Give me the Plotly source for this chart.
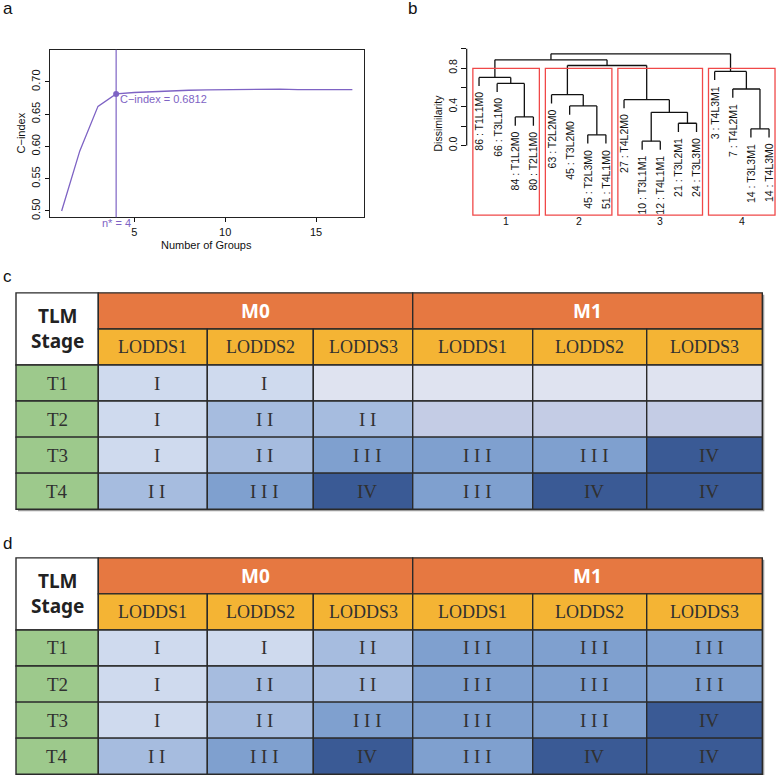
import plotly.graph_objects as go

W, H = 781, 778

# ---------------- data ----------------
# panel a
n_groups = list(range(1, 18))
c_index = [0.500, 0.593, 0.662, 0.6812, 0.6835, 0.685, 0.686, 0.687, 0.6875,
           0.688, 0.6887, 0.6892, 0.6886, 0.688, 0.688, 0.688, 0.688]
n_star = 4
c_star = 0.6812
a_xticks = [5, 10, 15]
a_yticks = [0.50, 0.55, 0.60, 0.65, 0.70]

# panel b (hclust-like merge table, leaves in plotted order)
leaf_labels = ["86 : T1L1M0", "66 : T3L1M0", "84 : T1L2M0", "80 : T2L1M0",
               "63 : T2L2M0", "45 : T3L2M0", "45 : T2L3M0", "51 : T4L1M0",
               "27 : T4L2M0", "10 : T3L1M1", "12 : T4L1M1", "21 : T3L2M1", "24 : T3L3M0",
               "3 : T4L3M1", "7 : T4L2M1", "14 : T3L3M1", "14 : T4L3M0"]
merge_left = [-10, -7, -16, -12, -3, 1, -6, -9, -5, -15, -2, -1, -14, 9, 12, 15]
merge_right = [-11, -8, -17, -13, -4, 4, 2, 6, 7, 3, 5, 11, 10, 8, 14, 13]
merge_height = [0.045, 0.11, 0.172, 0.23, 0.295, 0.343, 0.409, 0.474, 0.525,
                0.584, 0.642, 0.704, 0.766, 0.827, 0.886, 0.948]
cluster_sizes = [4, 4, 5, 4]
cluster_names = ["1", "2", "3", "4"]
b_yticks = [0.0, 0.2, 0.4, 0.6, 0.8, 1.0]
b_yticktext = ["0.0", "", "0.4", "", "0.8", ""]

# tables c and d
stage_header = "TLM<br>Stage"
m_groups = ["M0", "M1"]
lodds = ["LODDS1", "LODDS2", "LODDS3"]
t_stages = ["T1", "T2", "T3", "T4"]
grades_c = [["I", "I", "", "", "", ""],
            ["I", "II", "II", "", "", ""],
            ["I", "II", "III", "III", "III", "IV"],
            ["II", "III", "IV", "III", "IV", "IV"]]
grades_d = [["I", "I", "II", "III", "III", "III"],
            ["I", "II", "II", "III", "III", "III"],
            ["I", "II", "III", "III", "III", "IV"],
            ["II", "III", "IV", "III", "IV", "IV"]]

# ---------------- styles / layout ----------------
PURPLE = "#7E63C4"
SANS = "Liberation Sans, Arial, sans-serif"
SERIF = "Liberation Serif, Times New Roman, serif"
BOLD = "Noto Sans, Open Sans, sans-serif"
grade_fill = {"I": "#CFDAEE", "II": "#A6BCDF", "III": "#7FA0CF", "IV": "#3A5A95"}
empty_fill = {"T1": "#DFE3F0", "T2": "#C4CCE5", "T3": "#C4CCE5", "T4": "#C4CCE5"}
ORANGE, YELLOW, GREEN = "#E67841", "#F4B434", "#9DC98C"
BORDER = "#2A2A2A"
TXT = "#303030"
col_edges = [16, 98.3, 207.3, 313.3, 412.7, 532.7, 646.7, 762.3]
row_h = 36.2
table_tops = [294, 560]


def px(x):
    return x / W


def py(y):
    return 1 - y / H


fig = go.Figure()
shapes = []
annots = []


def note(**kw):
    kw.setdefault("xanchor", "center")
    kw.setdefault("yanchor", "middle")
    kw.setdefault("showarrow", False)
    annots.append(kw)


# ---------------- panel a ----------------
fig.add_trace(go.Scatter(x=n_groups, y=c_index, mode="lines",
                         line=dict(color=PURPLE, width=1.3),
                         xaxis="x", yaxis="y", hoverinfo="skip", showlegend=False))
fig.add_trace(go.Scatter(x=[n_star], y=[c_star], mode="markers",
                         marker=dict(color=PURPLE, size=6),
                         xaxis="x", yaxis="y", hoverinfo="skip", showlegend=False))
shapes.append(dict(type="line", xref="x", yref="y domain", x0=n_star, x1=n_star,
                   y0=0, y1=1, line=dict(color=PURPLE, width=1.2)))
note(xref="x", yref="y", x=n_star, y=c_star, xanchor="left", xshift=2, yshift=-5,
     text=f"C\u2212index = {c_star:.4f}", font=dict(family=SANS, size=11, color=PURPLE))
note(xref="x", yref="paper", x=n_star, y=py(223.5),
     text=f"n* = {n_star}", font=dict(family=SANS, size=11, color=PURPLE))
note(xref="paper", yref="paper", x=px(207), y=py(246),
     text="Number of Groups", font=dict(family=SANS, size=11, color="#111"))
note(xref="paper", yref="paper", x=px(21), y=py(134), textangle=-90,
     text="C\u2212index", font=dict(family=SANS, size=11, color="#111"))

# ---------------- panel b ----------------
hang = 0.1 * (max(merge_height) - min(merge_height))
node_x, node_h = {}, {}
leaf_end = {}
lx, ly = [], []
for k, (a, b, h) in enumerate(zip(merge_left, merge_right, merge_height), start=1):
    xs = []
    for c in (a, b):
        if c < 0:
            cx = -c
            ch = h - hang
            leaf_end[-c] = ch
        else:
            cx, ch = node_x[c], node_h[c]
        xs.append(cx)
        lx += [cx, cx, None]
        ly += [ch, h, None]
    lx += [xs[0], xs[1], None]
    ly += [h, h, None]
    node_x[k] = (xs[0] + xs[1]) / 2
    node_h[k] = h
fig.add_trace(go.Scatter(x=lx, y=ly, mode="lines", line=dict(color="#111", width=1.3),
                         xaxis="x2", yaxis="y2", hoverinfo="skip", showlegend=False))

for i, lab in enumerate(leaf_labels, start=1):
    note(xref="x2", yref="y2", x=i, y=leaf_end[i], textangle=-90, yanchor="top", yshift=-4,
         text=lab, font=dict(family=SANS, size=10.5, color="#111"))

hs = sorted(merge_height, reverse=True)
k = len(cluster_sizes)
cut_h = (hs[k - 2] + hs[k - 1]) / 2
RECT_BOTTOM = -0.72
start = 0
for size, name in zip(cluster_sizes, cluster_names):
    x0, x1 = start + 0.66, start + size + 0.33
    shapes.append(dict(type="rect", xref="x2", yref="y2", x0=x0, x1=x1, y0=RECT_BOTTOM, y1=cut_h,
                       line=dict(color="#F04848", width=1.3)))
    note(xref="x2", yref="paper", x=(x0 + x1) / 2, y=py(222),
         text=name, font=dict(family=SANS, size=10.5, color="#111"))
    start += size
shapes.append(dict(type="line", xref="x2 domain", yref="y2", x0=0, x1=0,
                   y0=b_yticks[0], y1=b_yticks[-1], line=dict(color="#111", width=1.2)))
note(xref="paper", yref="paper", x=px(438), y=py(124), textangle=-90,
     text="Dissimilarity", font=dict(family=SANS, size=10.5, color="#111"))

# ---------------- tables ----------------
def roman_text(s):
    return " ".join(s) if s and set(s) == {"I"} else s


def cell(x0, x1, y0, y1, fill):
    shapes.append(dict(type="rect", xref="x3", yref="y3", x0=x0, x1=x1, y0=y0, y1=y1,
                       fillcolor=fill, line=dict(color=BORDER, width=1.4), layer="above"))


def label(xc, yc, text, fam, size, color, xshift=0):
    note(xref="x3", yref="y3", x=xc, y=yc, text=text, xshift=xshift,
         font=dict(family=fam, size=size, color=color))


for top, grades in zip(table_tops, [grades_c, grades_d]):
    ry = [top + i * row_h for i in range(len(t_stages) + 3)]
    ce = col_edges
    # shadow
    shapes.append(dict(type="rect", xref="x3", yref="y3", x0=ce[0] + 2, x1=ce[-1] + 2,
                       y0=ry[0] + 2, y1=ry[-1] + 2, fillcolor="#9A9A9A", line=dict(width=0),
                       layer="above"))
    cell(ce[0], ce[1], ry[0], ry[2], "white")
    label((ce[0] + ce[1]) / 2, (ry[0] + ry[2]) / 2, f"<b>{stage_header}</b>", BOLD, 19, "#222")
    ncol = len(lodds)
    for g, m in enumerate(m_groups):
        xa, xb = ce[1 + g * ncol], ce[1 + (g + 1) * ncol]
        cell(xa, xb, ry[0], ry[1], ORANGE)
        label((xa + xb) / 2, (ry[0] + ry[1]) / 2, f"<b>{m}</b>", BOLD, 19, "white")
        for j, ld in enumerate(lodds):
            c = 1 + g * ncol + j
            cell(ce[c], ce[c + 1], ry[1], ry[2], YELLOW)
            label((ce[c] + ce[c + 1]) / 2, (ry[1] + ry[2]) / 2, ld, SERIF, 18, TXT)
    for r, t in enumerate(t_stages):
        y0, y1 = ry[2 + r], ry[3 + r]
        cell(ce[0], ce[1], y0, y1, GREEN)
        label((ce[0] + ce[1]) / 2, (y0 + y1) / 2, t, SERIF, 19, TXT)
        for c, gv in enumerate(grades[r]):
            fill = grade_fill[gv] if gv else empty_fill[t]
            cell(ce[c + 1], ce[c + 2], y0, y1, fill)
            if gv:
                label((ce[c + 1] + ce[c + 2]) / 2, (y0 + y1) / 2, roman_text(gv), SERIF, 19,
                      TXT, xshift=4)

# invisible anchor trace for table axes
fig.add_trace(go.Scatter(x=[0], y=[0], mode="markers", marker=dict(opacity=0),
                         xaxis="x3", yaxis="y3", hoverinfo="skip", showlegend=False))

# panel letters
for t, x, y in [("a", 1, 9), ("b", 406, 9), ("c", 1, 278), ("d", 1, 546)]:
    note(xref="paper", yref="paper", x=px(x), y=py(y), xanchor="left", text=t,
         font=dict(family=SANS, size=17, color="#111"))

axis_common = dict(showgrid=False, zeroline=False)
fig.update_layout(
    width=W, height=H, autosize=False,
    margin=dict(l=0, r=0, t=0, b=0),
    paper_bgcolor="white", plot_bgcolor="rgba(0,0,0,0)",
    showlegend=False,
    xaxis=dict(domain=[px(50), px(364)], anchor="y", range=[0.36, 17.64],
               tickvals=a_xticks, ticks="outside", ticklen=4, tickwidth=1, tickcolor="#111",
               showline=True, mirror=True, linecolor="#222", linewidth=1.4,
               tickfont=dict(family=SANS, size=11, color="#111"), **axis_common),
    yaxis=dict(domain=[py(218), py(50)], anchor="x", range=[0.4904, 0.7496],
               tickvals=a_yticks, ticktext=[f"{v:.2f}" for v in a_yticks],
               ticks="outside", ticklen=4, tickwidth=1, tickcolor="#111", tickangle=-90,
               showline=True, mirror=True, linecolor="#222", linewidth=1.4,
               tickfont=dict(family=SANS, size=11, color="#111"), **axis_common),
    xaxis2=dict(domain=[px(466.7), 1], anchor="y2", range=[0.32, 17.66], visible=False,
                **axis_common),
    yaxis2=dict(domain=[py(217.9), py(40)], anchor="x2", range=[-0.74, 1.092],
                tickvals=b_yticks, ticktext=b_yticktext, ticks="outside", ticklen=5,
                tickwidth=1, tickcolor="#111", tickangle=-90, showline=False,
                tickfont=dict(family=SANS, size=10.5, color="#111"), **axis_common),
    xaxis3=dict(domain=[0, 1], anchor="y3", range=[0, W], visible=False, **axis_common),
    yaxis3=dict(domain=[0, 1], anchor="x3", range=[H, 0], visible=False, **axis_common),
    shapes=shapes,
    annotations=annots,
)

fig.write_html("out.html", config={"displayModeBar": False},
               post_script="document.body.style.margin='0';")
